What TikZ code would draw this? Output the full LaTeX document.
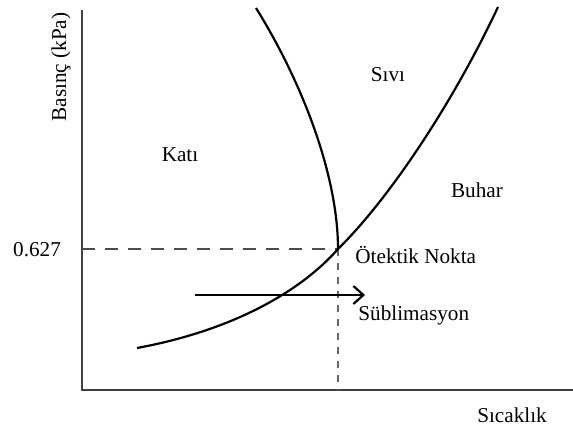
\documentclass[tikz,border=0pt]{standalone}
\usepackage{fontspec}
\setmainfont{Liberation Serif}
\usetikzlibrary{calc, positioning}
\usetikzlibrary{arrows.meta}

\begin{document}
\begin{tikzpicture}[x=0.5pt, y=-0.5pt,
  axisline/.style={line width=0.75pt, black!75},
  phaseline/.style={line width=1.1pt},
  guideh/.style={line width=0.6pt, black!70, dash pattern=on 6.5pt off 5pt},
  guidev/.style={line width=0.6pt, black!60, dash pattern=on 3.5pt off 3.5pt},
  lbl/.style={inner sep=0pt, font=\fontsize{10.6}{12}\selectfont}]
\useasboundingbox (0,0) rectangle (573,432);
\def\Tx{338}
\def\Ty{249}

\coordinate (O) at (82,390);
\coordinate (Ytop) at (82,10);
\coordinate (Xend) at (573,390);
\coordinate (T) at (\Tx,\Ty);
\coordinate (Py) at (82,\Ty);
\coordinate (Px) at (\Tx,390);
\coordinate (Fs) at (256,8);
\coordinate (Vs) at (137,348);
\coordinate (Ve) at (498,7);
\coordinate (Sa) at (195,295);
\coordinate (Sb) at (365,295);

% axes
\draw[axisline] (Ytop) -- (O) -- (Xend);

% guide lines to the triple point
\draw[guideh] (Py) -- (T);
\draw[guidev] (T) -- (Px);

% fusion curve
\draw[phaseline] (Fs) .. controls (302,82) and (\Tx,175) .. (T);
% sublimation and vaporisation curve
\draw[phaseline] (Vs) .. controls (235,330) and (302,290) .. (T)
  .. controls (388,200) and (452,105) .. (Ve);

% sublimation path
\draw[phaseline, -{Straight Barb[length=5pt, width=9pt]}] (Sa) -- (Sb);

\node[lbl] (katı) at (180,155) {Katı};
\node[lbl] (sıvı) at (388,75) {Sıvı};
\node[lbl] (buhar) at (477,190) {Buhar};
\node[lbl, anchor=west] (nokta) at (355,255) {Ötektik Nokta};
\node[lbl, anchor=west] (sub) at (358,315) {Süblimasyon};
\node[lbl] (deger) at (37,250) {0.627};
\node[lbl] (sicaklik) at (512,415) {Sıcaklık};
\node[lbl, rotate=90] (basinc) at (61,67) {Basınç (kPa)};
\end{tikzpicture}
\end{document}
